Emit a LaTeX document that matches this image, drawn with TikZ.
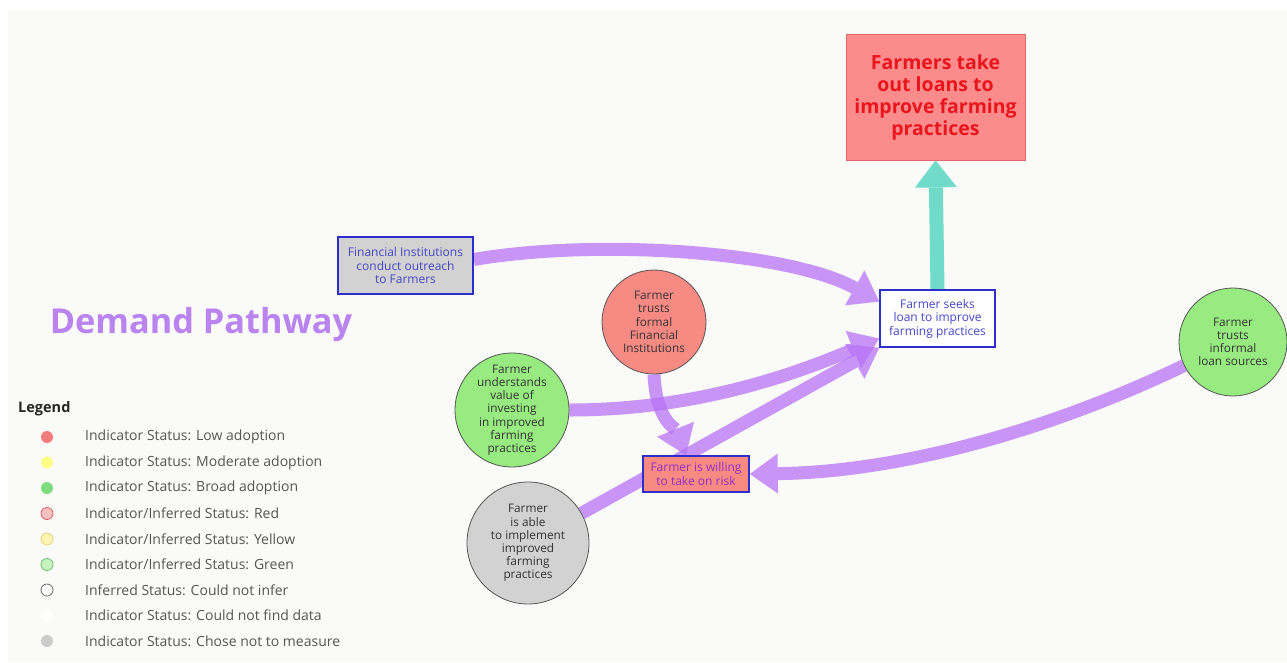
\documentclass[tikz,border=0pt]{standalone}
\usepackage{fontspec}
\setmainfont{Open Sans}
\usetikzlibrary{arrows.meta,calc}
\pgfdeclarelayer{bg}
\pgfdeclarelayer{back}
\pgfsetlayers{back,bg,main}
\definecolor{bgc}{HTML}{FAFAF9}
\definecolor{goalfill}{HTML}{FC8C8C}
\definecolor{goalborder}{HTML}{E06A6A}
\definecolor{goaltext}{HTML}{E8141E}
\definecolor{blueb}{HTML}{2E2EC8}
\definecolor{bluet}{HTML}{4646C8}
\definecolor{willtext}{HTML}{9030C0}
\definecolor{redfill}{HTML}{F88A84}
\definecolor{greenfill}{HTML}{98EB80}
\definecolor{greyfill}{HTML}{D2D2D2}
\definecolor{circborder}{HTML}{555555}
\definecolor{circtext}{HTML}{333333}
\definecolor{pcol}{HTML}{B873F6}
\definecolor{teal}{HTML}{70DBC9}
\definecolor{titlec}{HTML}{B983F0}
\definecolor{legc}{HTML}{555555}
\tikzset{
  goalbox/.style={draw=goalborder, fill=goalfill, line width=0.8pt, minimum width=179pt, minimum height=126pt, inner sep=0pt, align=center, text=goaltext, font=\fontsize{19.5}{22}\selectfont\bfseries},
  factbox/.style={draw=blueb, line width=1.6pt, inner sep=0pt, align=center, text=bluet, font=\fontsize{12}{13.4}\selectfont},
  circ/.style={circle, draw=circborder, line width=0.8pt, inner sep=0pt, align=center, text=circtext, font=\fontsize{11.8}{13.2}\selectfont},
  parrow/.style={draw=pcol, line width=13pt, opacity=0.75, -{Triangle[width=40pt,length=28pt,line width=0pt]}},
  tarrow/.style={draw=teal, line width=14pt, -{Triangle[width=42pt,length=27pt,line width=0pt]}},
  legdot/.style={circle, minimum size=12pt, inner sep=0pt, line width=0.8pt},
  legtext/.style={anchor=west, text=legc, font=\fontsize{14}{15}\selectfont, inner sep=0pt},
}
\begin{document}
\begin{tikzpicture}[x=1pt,y=-1pt]
\useasboundingbox (0,0) rectangle (1287,662);
\begin{pgfonlayer}{back}
\fill[white] (0,0) rectangle (1287,662);
\fill[bgc] (8,10) rectangle (1287,662);
\end{pgfonlayer}

% nodes
\node[goalbox] (goal) at (935.5,97) {Farmers take\\out loans to\\improve farming\\practices};
\node[factbox, fill=white, minimum width=115pt, minimum height=57pt] (seeks) at (937.5,318.5) {Farmer seeks\\loan to improve\\farming practices};
\node[factbox, fill=greyfill, minimum width=135pt, minimum height=57pt] (outreach) at (405.5,265.5) {Financial Institutions\\conduct outreach\\to Farmers};
\node[circ, fill=redfill, minimum size=104pt] (red) at (654,322) {Farmer\\trusts\\formal\\Financial\\Institutions};
\node[circ, fill=greenfill, minimum size=110pt] (greenU) at (512,410) {Farmer\\understands\\value of\\investing\\in improved\\farming\\practices};
\node[circ, fill=greyfill, minimum size=122pt] (greyA) at (528,543) {Farmer\\is able\\to implement\\improved\\farming\\practices};
\node[circ, fill=greenfill, minimum size=108pt] (informal) at (1233,342) {Farmer\\trusts\\informal\\loan sources};
\node[factbox, fill=redfill, text=willtext, minimum width=106pt, minimum height=36pt] (willing) at (696,474) {Farmer is willing\\to take on risk};

% connectors
\begin{pgfonlayer}{bg}
\draw[parrow] (greyA) -- (seeks.south west);
\draw[parrow] ($(outreach.east)+(0,-6)$) .. controls (600,238) and (790,252) .. ($(seeks.west)+(0,-17)$);
\draw[parrow] (greenU.east) .. controls (700,410) and (800,372) .. ($(seeks.west)+(0,20)$);
\draw[parrow] (red.south) .. controls (656,420) and (675,428) .. ($(willing.north)+(-10,0)$);
\draw[parrow] (informal) .. controls (1050,430) and (900,472) .. (willing.east);
\draw[tarrow] (seeks.north) -- (goal.south);
\end{pgfonlayer}

% title
\node[text=titlec, font=\fontsize{34.3}{40}\selectfont\bfseries, inner sep=0pt] (title) at (201,325) {Demand Pathway};

% legend
\node[anchor=west, text=black!85, font=\fontsize{14.5}{16}\selectfont\bfseries, inner sep=0pt] (legend) at (18,409) {Legend};
\foreach \i/\fc/\dc/\t in {
  1/{rgb,255:red,244;green,124;blue,124}/none/{Indicator Status: Low adoption},
  2/{rgb,255:red,255;green,255;blue,136}/none/{Indicator Status: Moderate adoption},
  3/{rgb,255:red,126;green,219;blue,126}/none/{Indicator Status: Broad adoption},
  4/{rgb,255:red,248;green,192;blue,192}/{rgb,255:red,216;green,96;blue,96}/{Indicator/Inferred Status: Red},
  5/{rgb,255:red,255;green,243;blue,176}/{rgb,255:red,232;green,210;blue,122}/{Indicator/Inferred Status: Yellow},
  6/{rgb,255:red,200;green,242;blue,192}/{rgb,255:red,108;green,192;blue,108}/{Indicator/Inferred Status: Green},
  7/white/{rgb,255:red,102;green,102;blue,102}/{Inferred Status: Could not infer},
  8/white/none/{Indicator Status: Could not find data},
  9/{rgb,255:red,204;green,204;blue,204}/none/{Indicator Status: Chose not to measure}} {
  \node[legdot, fill=\fc, draw=\dc] (ld\i) at (47,{437+25.5*(\i-1)}) {};
  \node[legtext] (lt\i) at (85,{437+25.5*(\i-1)}) {\t};
}
\end{tikzpicture}
\end{document}
